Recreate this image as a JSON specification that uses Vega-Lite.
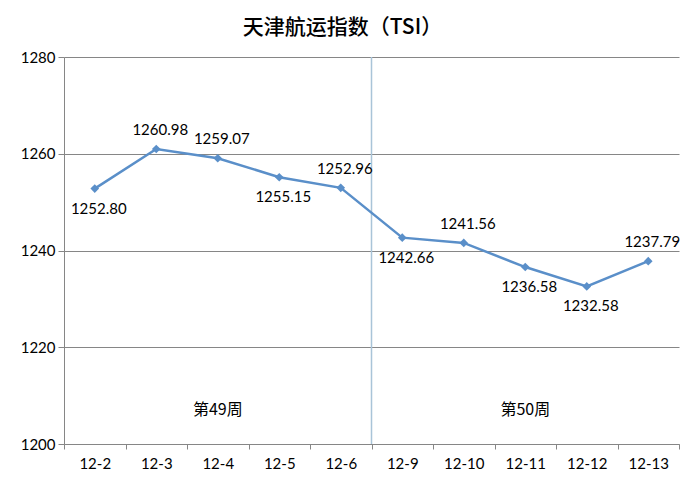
{
  "$schema": "https://vega.github.io/schema/vega-lite/v6.json",
  "width": 615,
  "height": 387,
  "autosize": "none",
  "padding": {"left": 64, "top": 57, "right": 15, "bottom": 52},
  "background": "white",
  "title": {
    "text": "天津航运指数（TSI）",
    "font": "Noto Sans CJK SC",
    "fontSize": 21,
    "fontWeight": 500,
    "color": "#000000",
    "anchor": "middle",
    "dx": -29,
    "offset": 12
  },
  "datasets": {
    "tsi": [
      {"date": "12-2", "value": 1252.80},
      {"date": "12-3", "value": 1260.98},
      {"date": "12-4", "value": 1259.07},
      {"date": "12-5", "value": 1255.15},
      {"date": "12-6", "value": 1252.96},
      {"date": "12-9", "value": 1242.66},
      {"date": "12-10", "value": 1241.56},
      {"date": "12-11", "value": 1236.58},
      {"date": "12-12", "value": 1232.58},
      {"date": "12-13", "value": 1237.79}
    ],
    "weeks": [
      {"date": "12-4", "value": 1207, "label": "第49周"},
      {"date": "12-11", "value": 1207, "label": "第50周"}
    ]
  },
  "data": {"name": "tsi"},
  "encoding": {
    "x": {
      "field": "date",
      "type": "ordinal",
      "sort": null,
      "title": null,
      "scale": {
        "type": "band",
        "domain": ["12-2", "12-3", "12-4", "12-5", "12-6", "12-9", "12-10", "12-11", "12-12", "12-13"],
        "paddingInner": 0,
        "paddingOuter": 0
      },
      "axis": {
        "labelAngle": 0,
        "tickBand": "extent",
        "tickSize": 5,
        "labelPadding": 7,
        "labelFont": "Lato",
        "labelFontSize": 15,
        "labelColor": "#000000",
        "domainColor": "#868686",
        "tickColor": "#868686",
        "grid": false
      }
    },
    "y": {
      "field": "value",
      "type": "quantitative",
      "title": null,
      "scale": {"domain": [1200, 1280], "zero": false, "nice": false},
      "axis": {
        "values": [1200, 1220, 1240, 1260, 1280],
        "format": "d",
        "tickSize": 6,
        "labelPadding": 3,
        "labelFont": "Lato",
        "labelFontSize": 15,
        "labelColor": "#000000",
        "domainColor": "#868686",
        "tickColor": "#868686",
        "gridColor": "#868686",
        "gridWidth": 1
      }
    }
  },
  "layer": [
    {
      "transform": [{"filter": "datum.date == '12-9'"}],
      "mark": {"type": "rule", "color": "#a9c4d8", "strokeWidth": 1.5},
      "encoding": {
        "x": {"field": "date", "type": "ordinal", "bandPosition": 0},
        "y": null
      }
    },
    {
      "mark": {
        "type": "line",
        "color": "#5a8fc9",
        "strokeWidth": 2.5,
        "point": {"shape": "diamond", "filled": true, "size": 75, "color": "#5a8fc9"}
      }
    },
    {
      "transform": [{"filter": "indexof(['12-3','12-4','12-6','12-10','12-13'], datum.date) >= 0"}],
      "mark": {"type": "text", "dy": -19, "dx": 4, "font": "Lato", "fontSize": 15, "color": "#000000"},
      "encoding": {"text": {"field": "value", "type": "quantitative", "format": ".2f"}}
    },
    {
      "transform": [{"filter": "indexof(['12-2','12-5','12-9','12-11','12-12'], datum.date) >= 0"}],
      "mark": {"type": "text", "dy": 20, "dx": 4, "font": "Lato", "fontSize": 15, "color": "#000000"},
      "encoding": {"text": {"field": "value", "type": "quantitative", "format": ".2f"}}
    },
    {
      "data": {"name": "weeks"},
      "mark": {"type": "text", "font": "Noto Sans CJK SC", "fontSize": 16, "color": "#000000"},
      "encoding": {"text": {"field": "label", "type": "nominal"}}
    }
  ],
  "config": {
    "view": {"stroke": null}
  }
}
